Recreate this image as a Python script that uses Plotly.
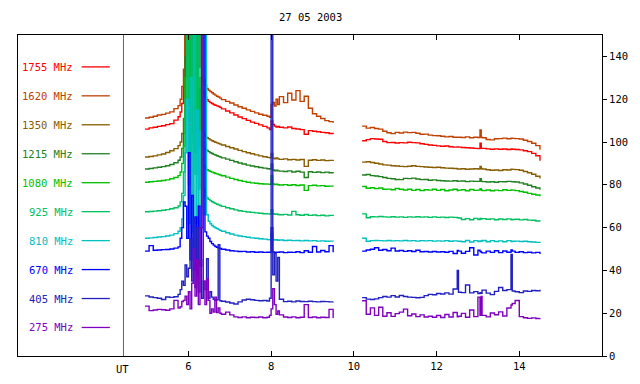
import plotly.graph_objects as go

# ---------------- time axis (UT hours) ----------------
T_A = [4.95, 5.05, 5.15, 5.25, 5.35, 5.45, 5.55, 5.65, 5.75]
T_B = [5.80, 5.84, 5.88, 5.92, 5.96, 6.00, 6.04, 6.08, 6.12, 6.16, 6.20, 6.24, 6.28,
       6.32, 6.36, 6.40, 6.44, 6.48, 6.52, 6.56, 6.60, 6.64, 6.68, 6.72, 6.76]
T_C = [6.8, 6.9, 7.0, 7.1, 7.2, 7.3, 7.4, 7.5, 7.6, 7.7, 7.8, 7.9]
T_D = [7.96, 8.0, 8.04, 8.08, 8.12, 8.16]
T_E = [8.2, 8.3, 8.4, 8.5, 8.6, 8.7, 8.8, 8.9, 9.0, 9.1, 9.2, 9.3, 9.4, 9.5]
T_GAP = [9.85]
T_F = [10.2, 10.3, 10.4, 10.5, 10.6, 10.7, 10.8, 10.9,
       11.0, 11.1, 11.2, 11.3, 11.4, 11.5, 11.6, 11.7, 11.8, 11.9,
       12.0, 12.1, 12.2, 12.3, 12.4, 12.5, 12.53, 12.6, 12.7, 12.8, 12.9,
       13.0, 13.05, 13.08, 13.1, 13.2, 13.3, 13.4, 13.5, 13.6, 13.7, 13.8, 13.83, 13.9,
       14.0, 14.1, 14.2, 14.3, 14.4, 14.5]
UT = T_A + T_B + T_C + T_D + T_E + T_GAP + T_F

# ---------------- channel values (arbitrary units) ----------------
f1755 = ([106.0, 106.6, 106.9, 107.3, 107.6, 108.1, 108.6, 110.2, 111.8]
         + [114, 118, 126, 165, 200, 140, 200, 130, 200, 150, 200, 135, 160, 130, 124, 121,
            119.8, 119.0, 118.4, 118.0, 117.5, 117.2, 116.9, 116.6, 116.2]
         + [115.5, 114.5, 113.6, 112.6, 111.7, 110.9, 110.1, 109.3, 108.7, 108.0, 107.3, 106.6]
         + [105.8, 109.8, 108.2, 107.4, 107.0, 107.3]
         + [106.9, 106.6, 107.0, 106.3, 106.1, 105.8, 103.6, 105.3, 105.0, 104.8, 104.5, 104.3, 104.0, 103.7]
         + [None]
         + [100.6, 101.1, 101.6, 101.4, 101.3, 100.2, 99.7, 99.8]
         + [99.5, 99.7, 99.6, 99.9, 99.7, 99.6, 99.2, 98.9, 98.6, 98.4]
         + [98.2, 98.0, 98.1, 97.8, 97.6, 97.7, 97.6, 97.4, 97.3, 97.2, 97.0]
         + [96.9, 99.4, 97.0, 97.0, 96.8, 96.6, 96.8, 96.6, 96.7, 96.5, 96.7, 96.6, 96.5]
         + [96.3, 95.9, 95.5, 94.7, 93.6, 91.2])

f1620 = ([111.2, 111.6, 112.0, 112.6, 112.9, 113.5, 114.1, 115.6, 117.0]
         + [120, 126, 134, 175, 200, 150, 200, 140, 200, 160, 200, 150, 180, 138, 129, 126.5,
            125.0, 124.2, 123.6, 123.0, 122.4, 121.9, 121.4, 121.0, 120.5]
         + [119.8, 119.0, 118.2, 117.3, 116.5, 115.8, 115.0, 114.3, 113.6, 113.0, 112.5, 112.0]
         + [111.6, 117.5, 118.5, 116.8, 120.0, 117.5]
         + [121.2, 118.4, 122.8, 119.6, 124.0, 119.0, 121.4, 115.8, 113.2, 112.0, 111.0, 110.0, 109.5, 109.0]
         + [None]
         + [107.4, 106.5, 106.8, 106.3, 106.0, 105.0, 104.3, 103.9]
         + [104.5, 104.2, 104.6, 104.4, 104.5, 104.1, 103.6, 103.7, 103.2, 103.0]
         + [102.9, 102.7, 102.4, 102.6, 102.2, 102.3, 102.2, 102.1, 102.4, 102.0, 102.2]
         + [102.1, 105.6, 102.3, 102.0, 101.2, 101.0, 101.5, 101.6, 101.8, 101.5, 101.8, 101.7, 101.6]
         + [101.4, 100.8, 100.2, 99.4, 98.3, 96.4])

f1350 = ([93.0, 93.2, 93.5, 94.0, 94.4, 95.1, 95.9, 96.9, 98.3]
         + [100, 104, 111, 150, 190, 120, 200, 115, 190, 125, 200, 115, 130, 108, 104, 102.6,
            102.0, 101.5, 101.0, 100.6, 100.2, 99.9, 99.6, 99.3, 99.0]
         + [98.6, 97.9, 97.3, 96.7, 96.1, 95.5, 95.0, 94.5, 94.0, 93.5, 93.1, 92.8]
         + [92.6, 94.6, 92.4, 92.2, 92.5, 92.1]
         + [91.9, 92.1, 91.7, 91.9, 91.6, 91.8, 88.6, 91.5, 91.7, 91.4, 91.6, 91.3, 91.4, 91.1]
         + [None]
         + [90.6, 90.8, 90.4, 90.1, 89.7, 89.3, 89.2, 88.9]
         + [88.8, 88.6, 88.5, 88.7, 88.9, 88.6, 88.5, 88.3, 88.2, 88.1]
         + [88.2, 88.0, 87.8, 87.7, 87.6, 87.4, 87.4, 87.5, 87.3, 87.4, 87.5]
         + [87.4, 88.6, 87.6, 87.4, 87.0, 86.8, 86.9, 86.7, 87.0, 86.9, 87.3, 87.2, 87.1]
         + [86.8, 86.2, 85.6, 84.9, 84.0, 82.9])

f1215 = ([87.4, 87.6, 87.9, 88.2, 88.5, 88.9, 89.5, 90.3, 91.5]
         + [93, 97, 104, 140, 180, 110, 190, 105, 185, 115, 180, 105, 125, 100, 97.5, 96.6,
            96.0, 95.5, 95.0, 94.6, 94.2, 93.9, 93.6, 93.3, 93.0]
         + [92.6, 92.0, 91.4, 90.8, 90.2, 89.7, 89.2, 88.8, 88.4, 88.1, 87.8, 87.5]
         + [87.4, 89.6, 86.9, 86.6, 86.8, 86.5]
         + [86.4, 86.2, 86.5, 86.0, 86.3, 85.9, 83.4, 86.1, 85.8, 86.0, 85.7, 85.9, 85.6, 85.4]
         + [None]
         + [84.6, 84.8, 84.3, 84.1, 83.8, 83.4, 83.0, 82.8]
         + [82.5, 82.4, 83.0, 82.9, 83.1, 82.7, 82.4, 82.5, 82.1, 82.3]
         + [82.0, 81.9, 81.8, 81.7, 81.9, 81.6, 81.7, 81.8, 81.5, 81.7, 81.6]
         + [81.6, 82.8, 81.7, 81.5, 81.3, 81.4, 81.2, 81.5, 81.4, 81.6, 81.5, 81.4, 81.3]
         + [80.9, 80.4, 79.8, 79.1, 78.5, 77.7])

f1080 = ([81.2, 81.4, 81.6, 81.8, 82.0, 82.3, 82.8, 83.4, 84.3]
         + [86, 90, 98, 130, 175, 95, 190, 100, 180, 95, 185, 98, 115, 92, 89, 87.6,
            87.0, 86.6, 86.2, 85.9, 85.6, 85.3, 85.1, 84.8, 84.6]
         + [84.2, 83.6, 83.0, 82.5, 82.0, 81.6, 81.2, 80.9, 80.7, 80.5, 80.4, 80.3]
         + [80.2, 84.2, 80.4, 80.1, 80.3, 80.0]
         + [79.9, 80.1, 79.8, 80.0, 79.7, 79.9, 77.4, 79.6, 79.8, 79.5, 79.6, 79.3, 79.4, 79.2]
         + [None]
         + [79.2, 78.4, 78.6, 78.2, 78.5, 77.9, 78.0, 77.7]
         + [78.3, 77.9, 77.6, 77.9, 77.4, 77.8, 77.3, 77.7, 77.5, 77.9]
         + [77.4, 77.8, 77.2, 77.6, 77.9, 77.3, 77.5, 77.7, 77.2, 77.8, 77.4]
         + [77.5, 78.2, 77.6, 77.3, 77.6, 77.2, 77.5, 77.3, 77.7, 77.4, 77.6, 77.5, 77.3]
         + [76.9, 76.5, 76.0, 75.6, 75.2, 74.6])

f925 = ([67.4, 67.5, 67.7, 67.9, 68.1, 68.4, 68.8, 69.3, 70.1]
        + [72, 76, 86, 120, 180, 80, 200, 75, 200, 85, 200, 78, 160, 85, 78, 74.8,
           73.8, 73.2, 72.6, 72.1, 71.7, 71.3, 70.9, 70.6, 70.3]
        + [69.9, 69.3, 68.8, 68.3, 67.9, 67.6, 67.3, 67.1, 66.9, 66.7, 66.5, 66.4]
        + [66.3, 68.4, 66.5, 66.2, 66.4, 66.1]
        + [66.0, 66.2, 65.9, 67.6, 66.0, 65.8, 66.1, 65.7, 65.9, 65.6, 65.8, 65.5, 65.7, 65.4]
        + [None]
        + [66.4, 64.6, 65.1, 65.0, 65.2, 65.0, 64.9, 65.1]
        + [64.9, 65.0, 64.8, 65.0, 64.9, 65.1, 64.9, 65.0, 64.8, 65.0]
        + [64.8, 64.9, 64.7, 64.9, 64.8, 64.6, 64.5, 63.8, 64.2, 63.7, 64.3]
        + [63.8, 64.3, 64.0, 64.2, 63.9, 64.1, 63.7, 64.0, 63.8, 64.1, 63.7, 63.8, 63.9]
        + [63.6, 63.8, 63.5, 63.4, 63.1, 62.8])

f810 = ([55.0, 55.2, 55.4, 55.6, 55.8, 56.1, 56.5, 57.2, 58.3]
        + [60, 64, 75, 95, 120, 62, 130, 58, 200, 62, 115, 60, 105, 70, 66, 200,
           66, 63, 61.8, 61.0, 60.4, 59.9, 59.5, 59.1, 58.7]
        + [58.3, 57.6, 57.0, 56.5, 56.1, 55.8, 55.5, 55.2, 55.0, 54.8, 54.6, 54.4]
        + [54.3, 57.2, 54.4, 54.2, 54.3, 54.1]
        + [54.2, 54.0, 54.1, 53.9, 54.0, 53.8, 54.0, 53.8, 53.9, 53.7, 53.8, 53.6, 53.7, 53.6]
        + [None]
        + [55.0, 53.6, 53.9, 54.0, 53.9, 53.8, 54.0, 53.8]
        + [53.9, 53.8, 54.0, 53.8, 53.9, 53.7, 53.9, 53.8, 53.9, 53.7]
        + [53.8, 53.7, 53.9, 53.6, 53.8, 53.7, 53.6, 53.4, 54.0, 53.3, 53.9]
        + [53.5, 53.8, 53.6, 54.0, 53.4, 53.9, 53.5, 53.8, 53.4, 53.9, 53.5, 53.6, 53.7]
        + [53.5, 53.6, 53.4, 53.3, 53.1, 52.8])

f670 = ([49.0, 51.6, 49.4, 49.5, 49.7, 49.8, 50.0, 50.4, 51.0]
        + [55, 60, 72, 70, 55, 95, 45, 75, 40, 65, 38, 70, 42, 60, 160, 58,
           56, 55, 53.5, 52.5, 51.8, 51.2, 50.8, 50.5, 50.2]
        + [49.9, 49.5, 49.2, 49.0, 48.8, 48.9, 48.6, 48.7, 48.5, 48.6, 48.4, 48.5]
        + [48.4, 60.0, 48.6, 48.3, 48.5, 48.4]
        + [48.6, 48.3, 48.5, 48.4, 48.7, 48.3, 49.2, 48.5, 51.2, 48.6, 49.3, 48.7, 51.6, 48.5]
        + [None]
        + [49.0, 49.5, 49.9, 50.6, 49.4, 49.8, 49.2, 50.4]
        + [49.1, 49.3, 48.9, 49.2, 48.8, 49.4, 48.7, 48.8, 48.6, 48.8]
        + [48.6, 48.7, 48.5, 48.9, 47.9, 49.3, 49.0, 48.0, 48.9, 50.6, 47.2]
        + [49.4, 48.8, 48.4, 48.2, 49.0, 48.4, 49.2, 48.3, 49.1, 48.5, 49.6, 49.0, 48.4]
        + [48.7, 48.3, 48.5, 48.2, 48.4, 47.7])

f405 = ([28.1, 27.6, 27.3, 27.0, 26.4, 27.6, 27.4, 27.7, 28.8]
        + [31, 35, 33, 42.5, 37, 41, 55, 35, 64, 32, 60, 30, 45, 27, 35, 31,
           45.5, 27, 30, 27.5, 26.5, 26.0, 26.3, 52, 25.8]
        + [25.6, 25.2, 24.8, 24.3, 25.3, 26.2, 26.5, 26.3, 26.0, 25.8, 25.9, 25.7]
        + [27, 160, 38, 48, 35, 46]
        + [26.5, 25.4, 25.6, 25.3, 25.7, 25.5, 25.4, 25.6, 25.4, 25.3, 25.5, 25.4, 25.3, 25.4]
        + [None]
        + [27.3, 26.6, 26.4, 26.7, 27.3, 27.8, 27.5, 28.2]
        + [27.6, 28.3, 27.8, 27.5, 27.4, 27.2, 27.4, 28.2, 28.8, 28.6]
        + [29.2, 29.0, 29.5, 28.9, 31.3, 40.0, 29.8, 29.6, 33.2, 29.5, 30.1]
        + [29.2, 29.6, 29.3, 30.8, 29.4, 28.7, 30.2, 32.0, 30.6, 31.0, 47.5, 30.4, 30.0]
        + [29.6, 30.4, 30.2, 30.6, 30.5, 31.0])

f275 = ([23.3, 21.2, 21.5, 21.8, 21.6, 21.4, 22.0, 26.0, 22.4]
        + [23, 25.5, 26, 28, 24, 30, 22, 34, 50, 28, 45, 24, 60, 200, 35, 24,
           36, 26, 20, 22, 20.5, 27.5, 20.3, 22.5, 20]
        + [19.5, 20.5, 19.2, 18.3, 18.0, 18.3, 17.9, 18.1, 18.0, 18.2, 17.9, 18.1]
        + [19, 22, 31.5, 24, 19.5, 21]
        + [19.2, 18.2, 18.0, 18.3, 17.9, 18.1, 24.0, 18.0, 18.2, 17.9, 18.1, 18.0, 21.8, 17.8]
        + [None]
        + [25.8, 19.5, 22.5, 19.0, 22.8, 18.6, 20.2, 18.5]
        + [19.8, 20.5, 21.9, 18.8, 19.6, 18.4, 19.2, 18.2, 18.6, 18.1]
        + [18.9, 18.0, 19.4, 18.2, 20.3, 18.3, 18.6, 19.9, 18.1, 21.5, 18.4]
        + [27.5, 19.0, 27.8, 19.0, 18.3, 20.1, 19.3, 20.6, 18.7, 22.4, 23.8, 24.5, 25.9]
        + [18.4, 17.9, 17.6, 17.8, 17.5, 17.6])

CHANNELS = ["1755 MHz", "1620 MHz", "1350 MHz", "1215 MHz", "1080 MHz",
            "925 MHz", "810 MHz", "670 MHz", "405 MHz", "275 MHz"]
SERIES = [f1755, f1620, f1350, f1215, f1080, f925, f810, f670, f405, f275]
COLORS = ["#ff0000", "#c04000", "#885c00", "#208020", "#00c000",
          "#00c060", "#00c0c0", "#0000ff", "#2020c0", "#8000c0"]

for s in SERIES:
    assert len(s) == len(UT), len(s)

FONT = "DejaVu Sans Mono"

fig = go.Figure()
for name, vals, col in zip(CHANNELS, SERIES, COLORS):
    fig.add_trace(go.Scatter(x=UT, y=vals, mode="lines", name=name,
                             line=dict(color=col, width=1.4, shape="hv"),
                             connectgaps=False, showlegend=False, hoverinfo="skip"))

# left-panel key: coloured labels with line samples
annotations = []
shapes = []
for i, (name, col) in enumerate(zip(CHANNELS, COLORS)):
    yk = 135.1 - 13.53 * i
    annotations.append(dict(x=3.27, y=yk, xref="x", yref="y", text=name, showarrow=False,
                            xanchor="right", yanchor="middle",
                            font=dict(family=FONT, size=10.5, color=col)))
    shapes.append(dict(type="line", xref="x", yref="y", x0=3.42, x1=4.10, y0=yk, y1=yk,
                       line=dict(color=col, width=1.3)))

# separator line between key and data
shapes.append(dict(type="line", xref="x", yref="paper", x0=4.43, x1=4.43, y0=0, y1=1,
                   line=dict(color="#666666", width=1)))
annotations.append(dict(x=4.41, y=-0.04, xref="x", yref="paper", text="UT", showarrow=False,
                        xanchor="center", yanchor="middle",
                        font=dict(family=FONT, size=10.5, color="black")))
annotations.append(dict(x=0.5, y=1.0, xref="paper", yref="paper", yshift=18,
                        text="27 05 2003", showarrow=False,
                        xanchor="center", yanchor="middle",
                        font=dict(family=FONT, size=10.5, color="black")))

fig.update_layout(
    width=640, height=384,
    margin=dict(l=18, r=36, t=35, b=25),
    paper_bgcolor="white", plot_bgcolor="white",
    font=dict(family=FONT, size=10.5, color="black"),
    annotations=annotations, shapes=shapes,
    xaxis=dict(range=[1.88, 16.0], tickvals=[6, 8, 10, 12, 14], ticktext=["6", "8", "10", "12", "14"],
               ticks="inside", ticklen=5, tickcolor="black", showline=True, linecolor="black",
               linewidth=1, mirror="ticks", showgrid=False, zeroline=False,
               tickfont=dict(family=FONT, size=10.5)),
    yaxis=dict(range=[0, 150], side="right", tickvals=[0, 20, 40, 60, 80, 100, 120, 140],
               ticks="outside", ticklen=4, tickcolor="black", showline=True, linecolor="black",
               linewidth=1, mirror=True, showgrid=False, zeroline=False,
               tickfont=dict(family=FONT, size=10.5)),
)

fig.write_html("out.html", config={"displayModeBar": False, "staticPlot": True})

# remove the default 8px page margin so the 640x384 figure fills the window exactly
with open("out.html", "r", encoding="utf-8") as fh:
    html = fh.read()
html = html.replace("<body>", '<body style="margin:0;padding:0;overflow:hidden">', 1)
with open("out.html", "w", encoding="utf-8") as fh:
    fh.write(html)
